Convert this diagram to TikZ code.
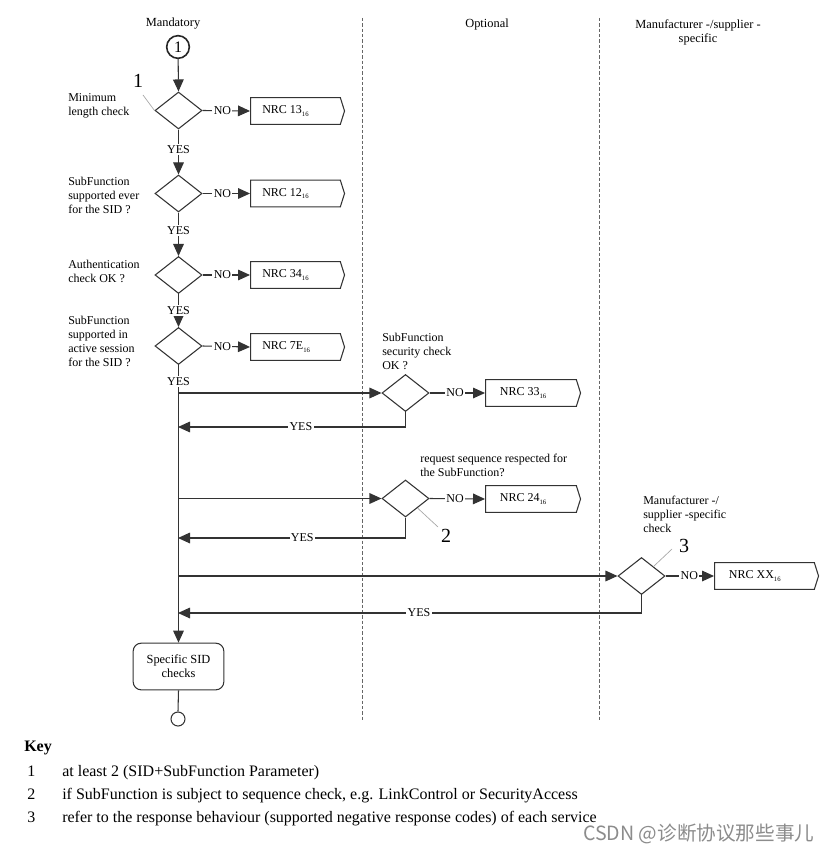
\documentclass[tikz,border=0pt]{standalone}
\usepackage{fontspec}
\setmainfont{Liberation Serif}
\newfontfamily\cjk{Noto Sans CJK SC}
\usetikzlibrary{shapes.geometric,shapes.symbols,arrows.meta}
\newcommand\nrcsub[1]{\raisebox{-0.5ex}{\fontsize{5}{5}\selectfont #1}}
\tikzset{
 line/.style={draw=black!80, line width=0.8pt},
 arr/.style={line, -{Triangle[length=9pt,width=8pt]}},
 dia/.style={diamond, draw=black!80, line width=0.8pt, minimum width=35.25pt, minimum height=27.75pt, inner sep=0pt},
 nrc/.style={signal, signal to=east, draw=black!80, line width=0.8pt, minimum height=20pt, inner sep=0pt, signal pointer angle=145, anchor=west},
 txt/.style={font=\fontsize{9}{10.5}\selectfont, inner sep=0pt, align=left},
 ctxt/.style={font=\fontsize{9.3}{10.5}\selectfont, inner sep=0pt, align=center},
 lbl/.style={fill=white, inner sep=1pt, font=\fontsize{9}{10}\selectfont},
 leader/.style={draw=black!35, line width=0.5pt},
 big/.style={font=\fontsize{15}{15}\selectfont, inner sep=0pt},
 sep/.style={draw=black!60, dash pattern=on 2.5pt off 1.5pt, line width=0.6pt},
 keytxt/.style={font=\fontsize{12}{14}\selectfont, inner sep=0pt, anchor=base west},
}
\begin{document}
\begin{tikzpicture}[x=0.75pt,y=-0.75pt]
\fill[white] (0,0) rectangle (829,855);
\useasboundingbox (0,0) rectangle (829,855);

% separators
\draw[sep] (362,18) -- (362,720);
\draw[sep] (599,18) -- (599,720);

% headers
\node[ctxt] (h1) at (173,24) {Mandatory};
\node[ctxt] (h2) at (487,25) {Optional};
\node[ctxt] (h3) at (698,32) {Manufacturer -/supplier -\\specific};

% start
\node[circle, draw=black!85, line width=1.2pt, minimum size=17pt, inner sep=0pt, font=\fontsize{12}{12}\selectfont] (start) at (178,47) {1};

% main diamonds
\node[dia] (d1) at (178.5,110.5) {};
\node[dia] (d2) at (178.5,193.5) {};
\node[dia] (d3) at (178.5,275) {};
\node[dia] (d4) at (178.5,346) {};

% left texts
\node[txt, anchor=west] (t1) at (68,106) {Minimum\\length check};
\node[txt, anchor=west] (t2) at (68,195) {SubFunction\\supported ever\\for the SID ?};
\node[txt, anchor=west] (t3) at (68,271) {Authentication\\check OK ?};
\node[txt, anchor=west] (t4) at (68,341) {SubFunction\\supported in\\active session\\for the SID ?};

% NRC boxes
\node[nrc, minimum width=70.5pt, label={[txt, anchor=west, xshift=9pt]west:NRC 13\nrcsub{16}}] (n1) at (250,111) {};
\node[nrc, minimum width=70.5pt, label={[txt, anchor=west, xshift=9pt]west:NRC 12\nrcsub{16}}] (n2) at (250,193.5) {};
\node[nrc, minimum width=70.5pt, label={[txt, anchor=west, xshift=9pt]west:NRC 34\nrcsub{16}}] (n3) at (250,275) {};
\node[nrc, minimum width=70.5pt, label={[txt, anchor=west, xshift=9pt]west:NRC 7E\nrcsub{16}}] (n4) at (250,347) {};

% optional diamonds
\node[dia] (d5) at (405.5,393) {};
\node[dia] (d6) at (405.5,498.5) {};
\node[dia] (d7) at (641.5,576) {};
\node[txt, anchor=west] (t5) at (382,351) {SubFunction\\security check\\OK ?};
\node[txt, anchor=west] (t6) at (420,465) {request sequence respected for\\the SubFunction?};
\node[txt, anchor=west] (t7) at (643,514) {Manufacturer -/\\supplier -specific\\check};

\node[nrc, minimum width=71.25pt, label={[txt, anchor=west, xshift=11pt]west:NRC 33\nrcsub{16}}] (n5) at (485,393) {};
\node[nrc, minimum width=71.25pt, label={[txt, anchor=west, xshift=11pt]west:NRC 24\nrcsub{16}}] (n6) at (485,499) {};
\node[nrc, minimum width=78pt, label={[txt, anchor=west, xshift=11pt]west:NRC XX\nrcsub{16}}] (n7) at (714,576) {};

% specific SID checks
\node[draw=black!80, line width=0.8pt, rounded corners=6pt, minimum width=68pt, minimum height=35pt, ctxt] (sid) at (178.5,666.5) {Specific SID\\checks};
\node[circle, draw=black!80, line width=0.8pt, minimum size=10.5pt, inner sep=0pt] (end) at (178,719) {};

% key labels
\node[big] (k1) at (138,81) {1};
\node[big] (k2) at (446,536) {2};
\node[big] (k3) at (684,546) {3};
\coordinate (l1) at (143,95);
\coordinate (l2) at (438,527);
\coordinate (l3) at (672,549);
\draw[leader] (l1) -- (d1.west);
\draw[leader] (d6.south east) -- (l2);
\draw[leader] (d7.north east) -- (l3);

% main flow
\draw[arr] (start) -- (d1.north);
\draw[arr] (d1.south) -- node[lbl,pos=0.45]{YES} (d2.north);
\draw[arr] (d2.south) -- node[lbl,pos=0.42]{YES} (d3.north);
\draw[arr] (d3.south) -- node[lbl,pos=0.5]{YES} (d4.north);
\draw[arr] (d4.south) -- node[lbl,pos=0.06]{YES} (sid.north);
\draw[line] (sid.south) -- (end.north);

\draw[arr] (d1.east) -- node[lbl,pos=0.42]{NO} (n1.west);
\draw[arr] (d2.east) -- node[lbl,pos=0.42]{NO} (n2.west);
\draw[arr] (d3.east) -- node[lbl,pos=0.42]{NO} (n3.west);
\draw[arr] (d4.east) -- node[lbl,pos=0.42]{NO} (n4.west);

% branches
\coordinate (b1) at (178,393);
\coordinate (r1) at (178,427);
\coordinate (b2) at (178,498.5);
\coordinate (r2) at (178,538);
\coordinate (b3) at (178,576);
\coordinate (r3) at (178,613);
\draw[arr] (b1) -- (d5.west);
\draw[arr] (d5.south) |- node[lbl,pos=0.73]{YES} (r1);
\draw[arr] (d5.east) -- node[lbl,pos=0.46]{NO} (n5.west);
\draw[arr] (b2) -- (d6.west);
\draw[arr] (d6.south) |- node[lbl,pos=0.727]{YES} (r2);
\draw[arr] (d6.east) -- node[lbl,pos=0.46]{NO} (n6.west);
\draw[arr] (b3) -- (d7.west);
\draw[arr] (d7.south) |- node[lbl,pos=0.74]{YES} (r3);
\draw[arr] (d7.east) -- node[lbl,pos=0.49]{NO} (n7.west);

% key
\node[keytxt, font=\fontsize{12}{14}\selectfont\bfseries] (key) at (24,751) {Key};
\node[keytxt] (kn1) at (27,776) {1};
\node[keytxt] (kt1) at (62,776) {at least 2 (SID+SubFunction Parameter)};
\node[keytxt] (kn2) at (27,799) {2};
\node[keytxt] (kt2) at (62,799) {if SubFunction is subject to sequence check, e.g. LinkControl or SecurityAccess};
\node[keytxt] (kn3) at (27,822) {3};
\node[keytxt] (kt3) at (62,822) {refer to the response behaviour (supported negative response codes) of each service};

% watermark
\node[keytxt, font=\cjk\fontsize{14.7}{15}\selectfont, text=black!45] (wm) at (583,840) {CSDN @诊断协议那些事儿};
\end{tikzpicture}
\end{document}
